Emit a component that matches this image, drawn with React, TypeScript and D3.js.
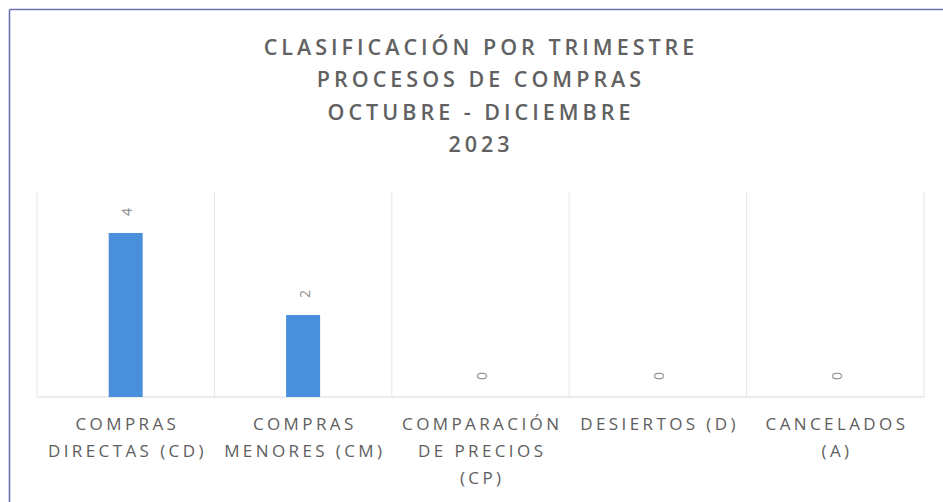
import React from "react";
import * as d3 from "d3";

const categories: string[][] = [
  ["COMPRAS", "DIRECTAS (CD)"],
  ["COMPRAS", "MENORES (CM)"],
  ["COMPARACIÓN", "DE PRECIOS", "(CP)"],
  ["DESIERTOS (D)"],
  ["CANCELADOS", "(A)"],
];
const values: number[] = [4, 2, 0, 0, 0];
const titleLines: string[] = [
  "CLASIFICACIÓN POR TRIMESTRE",
  "PROCESOS DE COMPRAS",
  "OCTUBRE - DICIEMBRE",
  "2023",
];
const yMax = 5;

export default function App() {
  const W = 943;
  const H = 502;
  const left = 37;
  const right = 924;
  const top = 192;
  const bottom = 397;
  const keys = categories.map((_, i) => String(i));
  const x = d3.scaleBand<string>().domain(keys).range([left, right]).paddingInner(0).paddingOuter(0);
  const y = d3.scaleLinear().domain([0, yMax]).range([bottom, top]);
  const barW = 34;
  const bounds = [...keys.map((k) => x(k) as number), right];
  const font = "'Open Sans', 'Noto Sans', sans-serif";

  return (
    <svg width={W} height={H} style={{ position: "absolute", left: 0, top: 0, background: "#fff" }}>
      <rect x={0} y={0} width={W} height={H} fill="#ffffff" />
      {/* frame */}
      <line x1={9.5} y1={9.5} x2={W} y2={9.5} stroke="#6b72b2" strokeWidth={1.6} />
      <line x1={9.5} y1={9.5} x2={9.5} y2={H} stroke="#6b72b2" strokeWidth={1.6} />
      {/* title */}
      {titleLines.map((t, i) => (
        <text
          key={i}
          x={481}
          y={55 + i * 32.3}
          textAnchor="middle"
          fontFamily={font}
          fontSize={21.5}
          fontWeight={600}
          letterSpacing={4}
          fill="#616161"
        >
          {t}
        </text>
      ))}
      {/* vertical gridlines */}
      {bounds.map((bx, i) => (
        <line key={i} x1={bx} x2={bx} y1={top} y2={bottom} stroke="#e6e6e6" strokeWidth={1} />
      ))}
      {/* baseline */}
      <line x1={left} x2={right} y1={bottom} y2={bottom} stroke="#d9d9d9" strokeWidth={1} />
      {/* bars */}
      {values.map((v, i) => {
        const cx = (x(keys[i]) as number) + x.bandwidth() / 2;
        return (
          <rect key={i} x={cx - barW / 2} y={y(v)} width={barW} height={bottom - y(v)} fill="#4a8fdc" />
        );
      })}
      {/* value labels */}
      {values.map((v, i) => {
        const cx = (x(keys[i]) as number) + x.bandwidth() / 2;
        const ly = y(v) - 21;
        return (
          <text
            key={i}
            transform={`translate(${cx + 1},${ly}) rotate(-90)`}
            textAnchor="middle"
            dominantBaseline="central"
            fontFamily={font}
            fontSize={14}
            fill="#8c8c8c"
          >
            {v}
          </text>
        );
      })}
      {/* category labels */}
      {categories.map((lines, i) => {
        const cx = (x(keys[i]) as number) + x.bandwidth() / 2;
        return lines.map((ln, j) => (
          <text
            key={`${i}-${j}`}
            x={cx + 1.7}
            y={430 + j * 27}
            textAnchor="middle"
            fontFamily={font}
            fontSize={17}
            letterSpacing={3.4}
            fill="#5e5e5e"
          >
            {ln}
          </text>
        ));
      })}
    </svg>
  );
}
